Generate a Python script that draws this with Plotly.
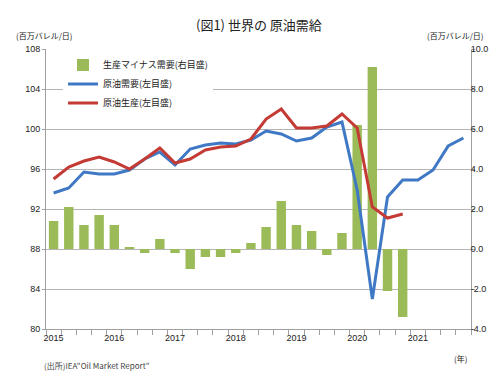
import plotly.graph_objects as go

quarters = list(range(28))  # 2015Q1 .. 2021Q4
year_labels = ["2015", "2016", "2017", "2018", "2019", "2020", "2021"]
year_pos = [0, 4, 8, 12, 16, 20, 24]

balance = [1.4, 2.1, 1.2, 1.7, 1.2, 0.1, -0.2, 0.5, -0.2, -1.0, -0.4, -0.4, -0.2, 0.3,
           1.1, 2.4, 1.2, 0.9, -0.3, 0.8, 6.2, 9.1, -2.1, -3.4]
demand = [93.6, 94.1, 95.7, 95.5, 95.5, 95.9, 97.0, 97.7, 96.4, 98.0, 98.4, 98.6, 98.5, 98.9,
          99.8, 99.5, 98.8, 99.1, 100.2, 100.7, 93.9, 83.0, 93.2, 94.9, 94.9, 95.9, 98.3, 99.1]
supply = [95.0, 96.2, 96.8, 97.2, 96.7, 96.0, 97.0, 98.1, 96.6, 97.0, 97.9, 98.2, 98.3, 99.0,
          101.0, 102.0, 100.1, 100.1, 100.3, 101.5, 100.1, 92.2, 91.1, 91.5]

left_ticks = [80, 84, 88, 92, 96, 100, 104, 108]
right_ticks = [-4, -2, 0, 2, 4, 6, 8, 10]

jp = "Noto Sans CJK JP"
num_font = dict(family="Liberation Sans", size=9, color="#222222")

fig = go.Figure()
fig.add_trace(go.Bar(x=quarters[:len(balance)], y=balance, name="生産マイナス需要(右目盛)",
                     marker=dict(color="#9bbb59", line=dict(width=0)), width=0.62,
                     yaxis="y"))
fig.add_trace(go.Scatter(x=quarters[:len(demand)], y=demand, name="原油需要(左目盛)", mode="lines",
                         line=dict(color="#3f78c4", width=3), yaxis="y2"))
fig.add_trace(go.Scatter(x=quarters[:len(supply)], y=supply, name="原油生産(左目盛)", mode="lines",
                         line=dict(color="#c43b35", width=3), yaxis="y2"))

fig.update_layout(
    width=500, height=382,
    margin=dict(l=38, r=37, t=41, b=61),
    paper_bgcolor="white", plot_bgcolor="white",
    showlegend=True,
    legend=dict(x=0.04, y=0.995, xanchor="left", yanchor="top", bgcolor="white",
                font=dict(family=jp, size=9, color="#222222"), tracegroupgap=0,
                itemwidth=30, traceorder="normal"),
    xaxis=dict(range=[-0.5, 27.5], tickmode="array", tickvals=year_pos, ticktext=year_labels,
               ticks="", showgrid=False, zeroline=False, showline=True, linecolor="#a0a0a0",
               tickfont=num_font,
               minor=dict(tick0=-0.5, dtick=1, ticks="outside", ticklen=5, tickcolor="#a0a0a0",
                          showgrid=False)),
    yaxis=dict(side="right", range=[-4, 10], tickvals=right_ticks,
               ticktext=[f"{v:.1f}" for v in right_ticks], tickfont=num_font,
               showgrid=True, gridcolor="#b4b4b4", gridwidth=1, zeroline=False,
               showline=True, linecolor="#a0a0a0", ticks="outside", ticklen=3,
               tickcolor="#a0a0a0", ticklabelstandoff=-6),
    yaxis2=dict(side="left", overlaying="y", range=[80, 108], tickvals=left_ticks,
                tickfont=num_font, showgrid=False, zeroline=False, showline=True,
                linecolor="#a0a0a0", ticks="outside", ticklen=3, tickcolor="#a0a0a0"),
)

fig.add_annotation(text="(図1) 世界の 原油需給", xref="paper", yref="paper", x=0.5, y=1.0,
                   yshift=25, xanchor="center", yanchor="middle", showarrow=False,
                   font=dict(family=jp, size=13, color="#222222"))
fig.add_annotation(text="(百万バレル/日)", xref="paper", yref="paper", x=-0.075, y=1.0,
                   yshift=14, xanchor="left", yanchor="middle", showarrow=False,
                   font=dict(family=jp, size=8, color="#222222"))
fig.add_annotation(text="(百万バレル/日)", xref="paper", yref="paper", x=1.035, y=1.0,
                   yshift=14, xanchor="right", yanchor="middle", showarrow=False,
                   font=dict(family=jp, size=8, color="#222222"))
fig.add_annotation(text="(年)", xref="paper", yref="paper", x=0.995, y=0.0,
                   yshift=-29, xanchor="right", yanchor="middle", showarrow=False,
                   font=dict(family=jp, size=8, color="#222222"))
fig.add_annotation(text="(出所)IEA\"Oil Market Report\"", xref="paper", yref="paper", x=-0.01, y=0.0,
                   yshift=-36, xanchor="left", yanchor="middle", showarrow=False,
                   font=dict(family=jp, size=8, color="#444444"))

fig.write_html("out.html")
